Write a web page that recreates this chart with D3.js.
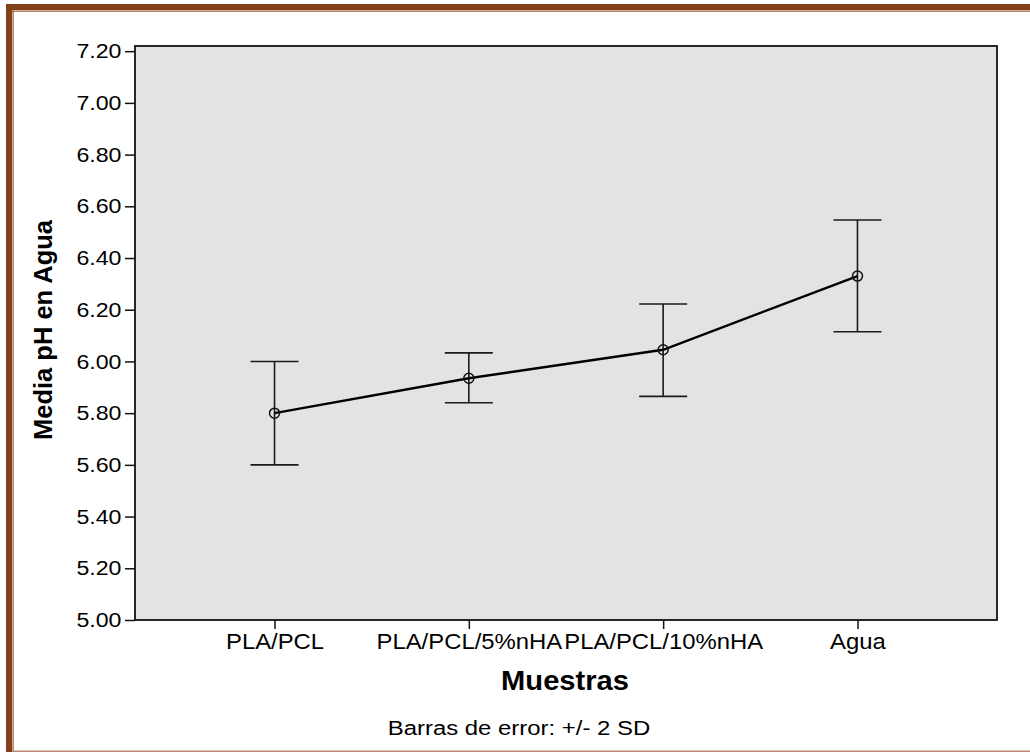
<!DOCTYPE html>
<html>
<head>
<meta charset="utf-8">
<script src="https://cdn.jsdelivr.net/npm/d3@7"></script>
<style>
  html, body { margin: 0; padding: 0; background: #fff; }
  svg { display: block; font-family: "Liberation Sans", Arial, sans-serif; }
</style>
</head>
<body>
<div class="chart"></div>
<script>
// datos
const categories = ["PLA/PCL", "PLA/PCL/5%nHA", "PLA/PCL/10%nHA", "Agua"];
const means = [5.80, 5.935, 6.045, 6.33];
const lower = [5.60, 5.84, 5.865, 6.115];
const upper = [6.00, 6.033, 6.222, 6.547];
const yTicks = [5.0, 5.2, 5.4, 5.6, 5.8, 6.0, 6.2, 6.4, 6.6, 6.8, 7.0, 7.2];

const OuterWidth = 1030, OuterHeight = 752;
const Margin = {top: 46, bottom: 132, left: 135, right: 33};
const stretch = 1.13; // el texto original esta un poco estirado en horizontal

const svg = d3.select('.chart')
  .append('svg')
  .attr('width', OuterWidth)
  .attr('height', OuterHeight);

// marco marron
svg.append('rect').attr('x', 6).attr('y', 4).attr('width', OuterWidth).attr('height', 6).attr('fill', '#84401a');
svg.append('rect').attr('x', 6).attr('y', 4).attr('width', 6).attr('height', OuterHeight).attr('fill', '#84401a');
svg.append('rect').attr('x', 12).attr('y', 10.5).attr('width', OuterWidth).attr('height', 1.2).attr('fill', '#9a5a30');
svg.append('rect').attr('x', 12.5).attr('y', 10.5).attr('width', 1.2).attr('height', OuterHeight).attr('fill', '#9a5a30');
svg.append('rect').attr('x', 12).attr('y', 750.5).attr('width', OuterWidth).attr('height', 1.5).attr('fill', '#b88a6a');

const x = d3.scalePoint()
  .domain(categories)
  .range([Margin.left, OuterWidth - Margin.right])
  .padding(0.718);

const y = d3.scaleLinear()
  .domain([5.0, 7.22])
  .range([OuterHeight - Margin.bottom, Margin.top]);

// fondo del area de grafico
svg.append('rect')
  .attr('x', Margin.left)
  .attr('y', Margin.top)
  .attr('width', OuterWidth - Margin.left - Margin.right)
  .attr('height', OuterHeight - Margin.top - Margin.bottom)
  .attr('fill', '#e3e3e3')
  .attr('stroke', '#111')
  .attr('stroke-width', 1.8);

// ejes
const yAxisG = svg.append('g')
  .attr('transform', `translate(${Margin.left},0)`)
  .call(d3.axisLeft(y).tickValues(yTicks).tickFormat(d3.format('.2f')).tickSize(10).tickPadding(2).tickSizeOuter(0));
yAxisG.select('.domain').remove();
yAxisG.selectAll('.tick line').attr('stroke', '#111').attr('stroke-width', 1.5);
yAxisG.selectAll('.tick text')
  .attr('fill', '#000')
  .style('font-size', '20.5px')
  .attr('font-family', '"Liberation Sans", Arial, sans-serif')
  .attr('transform', `scale(${stretch},1)`);

const xAxisG = svg.append('g')
  .attr('transform', `translate(0,${OuterHeight - Margin.bottom})`)
  .call(d3.axisBottom(x).tickSize(9).tickPadding(5).tickSizeOuter(0));
xAxisG.select('.domain').remove();
xAxisG.selectAll('.tick line').attr('stroke', '#111').attr('stroke-width', 1.5);
xAxisG.selectAll('.tick text')
  .attr('fill', '#000')
  .style('font-size', '21.5px')
  .attr('font-family', '"Liberation Sans", Arial, sans-serif')
  .attr('transform', 'scale(1.11,1)');

// barras de error
const I = d3.range(categories.length);
const cap = 24;
const err = svg.append('g').attr('stroke', '#1a1a1a').attr('stroke-width', 1.6);
err.selectAll('line.v')
  .data(I)
  .join('line')
    .attr('class', 'v')
    .attr('x1', i => x(categories[i]))
    .attr('x2', i => x(categories[i]))
    .attr('y1', i => y(lower[i]))
    .attr('y2', i => y(upper[i]));
err.selectAll('line.top')
  .data(I)
  .join('line')
    .attr('class', 'top')
    .attr('x1', i => x(categories[i]) - cap)
    .attr('x2', i => x(categories[i]) + cap)
    .attr('y1', i => y(upper[i]))
    .attr('y2', i => y(upper[i]));
err.selectAll('line.bot')
  .data(I)
  .join('line')
    .attr('class', 'bot')
    .attr('x1', i => x(categories[i]) - cap)
    .attr('x2', i => x(categories[i]) + cap)
    .attr('y1', i => y(lower[i]))
    .attr('y2', i => y(lower[i]));

// linea de medias
const line = d3.line()
  .x(i => x(categories[i]))
  .y(i => y(means[i]));
svg.append('path')
  .datum(I)
  .attr('d', line)
  .attr('fill', 'none')
  .attr('stroke', '#000')
  .attr('stroke-width', 2.4);

svg.append('g')
  .selectAll('circle')
  .data(I)
  .join('circle')
    .attr('cx', i => x(categories[i]))
    .attr('cy', i => y(means[i]))
    .attr('r', 5)
    .attr('fill', 'none')
    .attr('stroke', '#111')
    .attr('stroke-width', 1.5);

// titulos de ejes
svg.append('text')
  .attr('transform', `translate(52,330) rotate(-90)`)
  .attr('text-anchor', 'middle')
  .style('font-size', '25.5px')
  .style('font-weight', 'bold')
  .text('Media pH en Agua');

svg.append('text')
  .attr('transform', `translate(565,690) scale(1.04,1)`)
  .attr('text-anchor', 'middle')
  .style('font-size', '28px')
  .style('font-weight', 'bold')
  .text('Muestras');

svg.append('text')
  .attr('transform', `translate(519,735) scale(1.14,1)`)
  .attr('text-anchor', 'middle')
  .style('font-size', '21px')
  .text('Barras de error: +/- 2 SD');
</script>
</body>
</html>
